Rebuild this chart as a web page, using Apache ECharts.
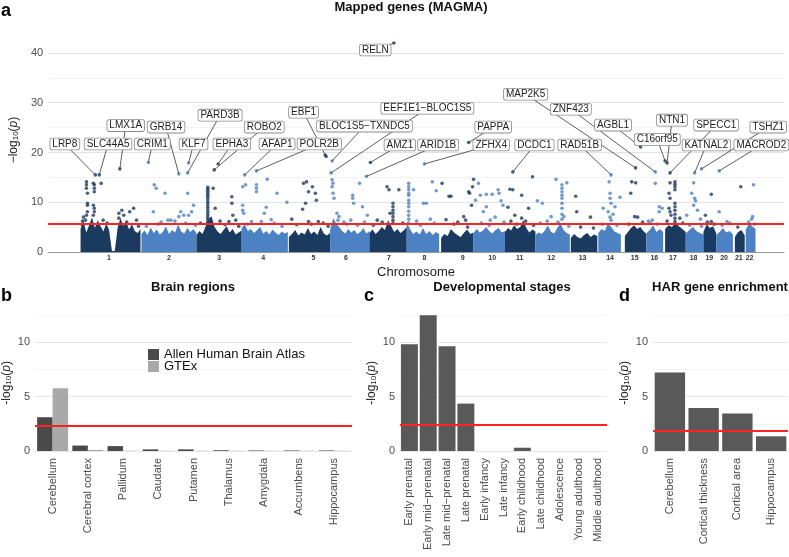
<!DOCTYPE html>
<html>
<head>
<meta charset="utf-8">
<script src="https://cdn.jsdelivr.net/npm/echarts@6/dist/echarts.min.js"></script>
<style>
  html, body { margin: 0; padding: 0; background: #fff; }
  #main { width: 789px; height: 557px; }
</style>
</head>
<body>
<div id="main"></div>
<script>
var chart = echarts.init(document.getElementById('main'));

// ---- panel a: gene-based Manhattan (positions in cumulative plot units) ----
var chromStart = [68,130,186,232,280,322,362,400,435,468,500,531,567,595,622,644,663,684,702,715,734,745];
var chromEnd   = [129,186,232,279,322,362,400,433,468,500,531,566,594,618,644,661,684,702,715,732,744,755];
var chromTick  = [97,158,209,254,305,338,382,418,457,487,515,547,579,607,632,652,671,692,708,723,738,749];

// upper edge of the dense cloud of genes, read along each chromosome
var bandHeights = [
  [4.6,6.2,3.9,5.4,7.0,4.8,6.4,5.2,4.1,5.8,4.4,0.2,0.2,4.9,6.8,5.3,6.1,4.5,5.6,4.2,3.8,4.6],
  [3.6,4.3,3.4,4.9,3.8,4.5,3.5,4.0,5.2,3.6,4.4,3.9,5.6,4.1,3.7,4.8,4.0,4.6,3.8],
  [3.4,4.2,3.6,5.1,6.6,7.2,5.0,4.1,3.6,4.4,5.2,3.9,4.6,3.5,3.9,4.3],
  [4.8,5.6,4.2,4.6,3.8,4.4,5.0,3.7,4.2,3.5,4.5,3.9,3.4,4.1,3.7,4.0],
  [3.0,3.6,4.4,3.3,3.9,3.5,4.8,3.6,4.1,3.4,5.0,3.7,3.3,3.8],
  [4.4,6.8,5.8,5.0,4.2,3.7,4.6,3.9,4.4,3.6,4.0,4.8,3.7,4.2],
  [3.8,4.5,3.6,4.2,5.0,4.4,6.4,5.2,4.0,4.6,3.8,4.3,5.0],
  [6.0,4.6,3.6,4.1,3.5,4.8,3.6,4.2,3.4,4.0,3.6],
  [2.8,3.6,3.2,4.6,3.9,3.4,3.0,3.8,4.5,3.6,3.9],
  [3.8,4.6,3.9,4.3,5.0,4.2,3.7,4.4,4.8,3.9,4.2],
  [4.0,4.8,4.3,5.4,4.6,5.0,6.4,4.8,3.9,4.5,4.1],
  [3.4,3.9,3.6,4.3,5.4,4.0,3.7,4.8,5.8,4.4,3.8,3.5],
  [2.8,3.6,3.0,2.7,3.4,3.8,3.0,3.5,3.2],
  [3.8,4.6,4.2,5.8,5.0,4.1,3.8,3.5],
  [3.2,4.0,4.8,5.4,4.6,5.0,4.2,3.6],
  [3.8,4.4,5.4,4.0,4.6,4.0],
  [4.6,5.4,5.0,6.0,5.2,4.6,4.0],
  [3.7,4.4,5.0,4.2,3.8,3.5],
  [4.0,5.6,4.8,5.2,3.8],
  [3.4,4.0,4.8,3.9,4.2,3.5],
  [3.0,4.0,4.4,3.3],
  [4.4,5.8,5.2,4.6]
];

// [chromosome, position, -log10 p] for genes standing out above the cloud
var hits = [
  [1,74,14.1],[1,74,13.5],[1,74,12.8],[1,75,11.8],[1,75,9.8],[1,75,9.4],[1,75,8.1],[1,74,7.4],[1,73,6.4],[1,71,7.0],[1,70,6.2],
  [1,81,13.8],[1,82,13.5],[1,82,12.8],[1,82,12.1],[1,81,9.4],[1,82,8.8],[1,82,8.1],[1,81,7.4],[1,89,13.8],[1,91,6.4],
  [1,107,7.8],[1,107,6.8],[1,110,8.4],[1,112,7.4],[1,118,8.1],[1,122,8.8],[1,125,6.4],
  [1,70,5.4],[1,95,5.8],[1,115,6.0],[1,127,5.2],
  [2,143,13.5],[2,145,12.8],[2,142,8.1],[2,154,11.8],[2,157,6.4],[2,160,6.4],[2,168,7.1],[2,170,8.1],[2,173,7.4],
  [2,177,11.8],[2,178,7.4],[2,181,8.1],[2,183,9.4],[2,150,6.0],[2,164,6.2],
  [2,135,5.2],[2,147,5.6],[2,175,5.8],[2,185,5.4],
  [3,197.5,13.0],[3,197.5,12.6],[3,197.5,12.2],[3,197.5,11.8],[3,197.5,11.4],[3,197.5,11.0],[3,197.5,10.5],[3,197.5,10.0],
  [3,197.5,9.5],[3,197.5,9.0],[3,197.5,8.5],[3,197.5,8.0],[3,197.5,7.5],[3,197.5,7.0],[3,197.5,6.5],[3,197.5,6.0],
  [3,203,12.8],[3,205,8.8],[3,222,11.1],[3,222,9.8],[3,223,7.4],[3,226,6.4],[3,219,6.1],[3,210,6.2],
  [3,190,5.8],[3,215,5.5],[3,229,5.2],
  [4,233,13.1],[4,236,13.5],[4,233,9.4],[4,233,8.4],[4,234,7.8],[4,242,6.1],[4,247,13.5],[4,247,12.8],[4,247,12.1],
  [4,252,6.1],[4,255,7.8],[4,258,14.6],[4,257,9.0],[4,268,11.8],[4,278,10.0],[4,262,6.5],
  [4,238,5.6],[4,265,5.8],[4,273,5.2],
  [5,283,6.6],[5,295,13.8],[5,298,14.1],[5,294,8.6],[5,297,9.8],[5,300,12.1],[5,304,13.1],[5,307,11.8],[5,308,10.4],
  [5,300,6.1],[5,310,6.1],[5,315,5.8],[5,318,19.2],
  [5,288,5.5],[5,303,5.6],[5,320,5.2],
  [6,324,14.5],[6,325,13.8],[6,324,13.1],[6,325,11.8],[6,326,10.8],[6,329,7.8],[6,331,7.1],[6,330,6.4],
  [6,345,11.4],[6,345,10.8],[6,346,9.8],[6,343,6.4],[6,352,13.8],[6,355,9.1],[6,360,7.4],[6,336,6.0],
  [6,339,5.6],[6,350,5.4],[6,357,6.0],
  [7,380,13.1],[7,382,12.5],[7,386,9.8],[7,386,9.1],[7,386,8.4],[7,386,7.8],[7,386,7.1],[7,386,6.4],[7,386,5.8],
  [7,392,12.5],[7,370,6.4],[7,383,7.8],[7,375,6.0],
  [7,366,5.4],[7,396,5.8],
  [8,402,13.8],[8,402,13.1],[8,402,12.5],[8,402,11.8],[8,402,11.4],[8,402,10.4],[8,402,9.8],[8,402,9.1],[8,402,8.2],
  [8,402,7.4],[8,402,6.6],[8,402,5.8],[8,407,12.5],[8,417,9.8],[8,420,9.8],[8,426,14.1],[8,430,12.3],[8,410,6.2],[8,424,6.6],
  [8,414,5.4],[8,428,5.8],
  [9,436,13.8],[9,443,11.2],[9,445,11.2],[9,463,12.1],[9,464,11.8],[9,458,7.1],[9,460,6.4],[9,467,13.1],[9,468,14.6],
  [9,466,9.4],[9,440,6.5],[9,452,6.0],
  [9,448,5.6],[9,462,5.0],
  [10,473,13.8],[10,475,11.4],[10,481,11.6],[10,487,11.6],[10,481,9.1],[10,478,8.1],[10,493,12.5],[10,494,11.8],
  [10,496,10.3],[10,498,9.4],[10,470,10.4],[10,485,6.4],[10,490,7.0],
  [10,476,5.8],[10,484,5.4],[10,499,6.0],
  [11,505,12.6],[11,508,12.5],[11,517,11.4],[11,528,15.1],[11,524,8.8],[11,510,7.4],[11,517,6.8],[11,503,9.0],[11,506,6.2],
  [11,512,5.6],[11,521,6.2],[11,529,5.4],
  [12,533,10.3],[12,538,9.8],[12,552,14.6],[12,558,13.5],[12,558,12.8],[12,558,12.1],[12,558,11.4],[12,558,10.8],
  [12,558,9.8],[12,558,8.8],[12,558,7.6],[12,558,6.6],[12,563,13.9],[12,547,7.1],[12,560,7.1],[12,543,6.2],
  [12,536,5.8],[12,554,6.0],[12,565,5.2],
  [13,572,11.2],[13,573,8.1],[13,587,7.0],[13,577,5.0],[13,590,4.8],
  [14,606,14.1],[14,607,11.8],[14,607,10.8],[14,608,9.8],[14,600,8.8],[14,605,8.1],[14,607,7.0],[14,608,6.4],
  [14,617,11.0],[14,612,9.1],[14,610,7.6],[14,599,5.6],[14,614,5.4],
  [15,629,14.1],[15,633,13.9],[15,628,11.8],[15,632,7.1],[15,635,7.0],[15,626,5.6],[15,640,6.0],
  [16,653,13.8],[16,650,6.4],[16,657,9.1],[16,657,8.1],[16,660,8.8],[16,646,6.2],[16,648,5.8],[16,655,5.6],
  [17,673,14.1],[17,673,13.6],[17,673,13.1],[17,673,12.5],[17,668,13.9],[17,667,11.8],[17,668,10.8],[17,667,8.8],
  [17,668,8.1],[17,669,7.4],[17,673,9.8],[17,673,9.1],[17,673,8.4],[17,673,7.6],[17,673,6.8],[17,673,6.1],[17,678,6.8],
  [17,665,6.2],[17,681,5.8],
  [18,692,13.9],[18,690,11.8],[18,693,10.8],[18,694,10.3],[18,692,9.4],[18,696,8.4],[18,685,7.4],[18,699,6.6],
  [18,688,5.4],[18,700,5.2],
  [19,710,11.6],[19,710,6.1],[19,704,7.4],[19,706,6.0],[19,713,5.6],
  [20,718,8.1],[20,726,6.1],[20,721,5.4],[20,729,5.8],
  [21,740,13.1],[21,737,5.0],
  [22,753,13.5],[22,752,7.1],[22,751,6.6],[22,748,6.0],[22,754,5.6]
];

// labelled genes
var geneNames = ['RELN','LRP8','SLC44A5','LMX1A','CRIM1','GRB14','KLF7','PARD3B','EPHA3','ROBO2','AFAP1','POLR2B',
  'EBF1','BLOC1S5\u2212TXNDC5','EEF1E1\u2212BLOC1S5','AMZ1','ARID1B','ZFHX4','PAPPA','DCDC1','MAP2K5','RAD51B',
  'ZNF423','AGBL1','NTN1','C16orf95','SPECC1','KATNAL2','TSHZ1','MACROD2'];
var genePos = [387,83,87,108,137,168,178,177,208,204,235,247,317,324,323,363,359,418,463,508,633,608,653,638,665,663,668,693,700,718];
var geneP   = [42.0,15.5,15.5,16.7,18.0,15.7,17.9,15.9,17.7,16.5,15.5,16.3,19.5,18.3,15.9,18.0,15.2,17.7,22.0,16.1,16.9,15.5,16.1,21.1,17.9,18.3,15.9,15.9,16.7,16.3];
// label box placement (layout, plot units)
var boxX = [368,52,96,114,141,155,183,210,222,255,268,311,295,357,421,393,432,486,488,530,521,576,567,610,670,655,715,705,768,761];
var boxY = [40.6,21.7,21.7,25.4,21.7,25.1,21.7,27.5,21.7,25.1,21.7,21.7,28.1,25.3,28.9,21.5,21.5,21.5,25.1,21.5,31.7,21.5,28.7,25.5,26.5,22.6,25.5,21.5,25.1,21.5];
var magmaThr = 5.6;

// ---- panels b-d ----
var brainRegions = ['Cerebellum','Cerebral cortex','Pallidum','Caudate','Putamen','Thalamus','Amygdala','Accumbens','Hippocampus'];
var ahbaP = [3.1,0.5,0.45,0.15,0.15,0.07,0.05,0.05,0.05];
var gtexP = [5.75,0.1,0.02,0.02,0.02,0.02,0.02,0.02,0.02];
var brainThr = 2.3;

var devStages = ['Early prenatal','Early mid\u2212prenatal','Late mid\u2212prenatal','Late prenatal','Early infancy','Late infancy',
  'Early childhood','Late childhood','Adolescence','Young adulthood','Middle adulthood'];
var devP = [9.8,12.45,9.6,4.35,0,0,0.3,0,0,0,0];
var devThr = 2.4;

var harSets = ['Cerebellum','Cortical thickness','Cortical area','Hippocampus'];
var harP = [7.2,3.95,3.45,1.35];
var harThr = 1.9;

var dark = '#1b3a5f', light = '#4c82c3';
var barGrey = '#595959';
var font = 'Liberation Sans, Arial, sans-serif';

function chromOf(pos) {
  for (var c = 0; c < chromStart.length; c++) {
    if (pos >= chromStart[c] && pos <= chromEnd[c]) return c + 1;
  }
  return 1;
}

var series = [];
bandHeights.forEach(function (h, c) {
  var s = chromStart[c], e = chromEnd[c], step = (e - s) / (h.length - 1);
  series.push({
    type: 'line', xAxisIndex: 0, yAxisIndex: 0, silent: true, z: 1,
    symbol: 'none', lineStyle: { width: 0 },
    areaStyle: { color: c % 2 ? light : dark, opacity: 1 },
    data: h.map(function (v, i) { return [s + i * step, v]; })
  });
});

var darkPts = [], lightPts = [];
hits.forEach(function (d) { (d[0] % 2 ? darkPts : lightPts).push([d[1], d[2]]); });
genePos.forEach(function (p, i) { (chromOf(p) % 2 ? darkPts : lightPts).push([p, geneP[i]]); });

series.push({ type: 'scatter', xAxisIndex: 0, yAxisIndex: 0, symbolSize: 3.6, z: 2, silent: true,
  itemStyle: { color: dark }, data: darkPts,
  markLine: { silent: true, symbol: 'none', label: { show: false },
    lineStyle: { color: '#ff2222', width: 1.8, type: 'solid' }, data: [{ yAxis: magmaThr }] } });
series.push({ type: 'scatter', xAxisIndex: 0, yAxisIndex: 0, symbolSize: 3.6, z: 2, silent: true,
  itemStyle: { color: light }, data: lightPts });

// leader lines
series.push({
  type: 'custom', xAxisIndex: 0, yAxisIndex: 0, z: 3, silent: true, clip: false,
  data: genePos.map(function (p, i) { return [p, geneP[i], boxX[i], boxY[i]]; }),
  renderItem: function (params, api) {
    var a = api.coord([api.value(0), api.value(1)]);
    var b = api.coord([api.value(2), api.value(3)]);
    return { type: 'line', shape: { x1: a[0], y1: a[1], x2: b[0], y2: b[1] },
      style: { stroke: '#333', lineWidth: 0.8 } };
  }
});
// label boxes
series.push({
  type: 'custom', xAxisIndex: 0, yAxisIndex: 0, z: 4, silent: true, clip: false,
  data: boxX.map(function (x, i) { return [x, boxY[i]]; }),
  renderItem: function (params, api) {
    var b = api.coord([api.value(0), api.value(1)]);
    return { type: 'text', x: b[0], y: b[1],
      style: { text: geneNames[params.dataIndex], align: 'center', verticalAlign: 'middle',
        font: '10px ' + font, fill: '#222', backgroundColor: '#fff',
        borderColor: '#8a8a8a', borderWidth: 0.8, borderRadius: 2, padding: [1, 2, 0, 2] } };
  }
});

function thrLine(v) {
  return { silent: true, symbol: 'none', label: { show: false },
    lineStyle: { color: '#ff2222', width: 1.8, type: 'solid' }, data: [{ yAxis: v }] };
}
series.push({ name: 'Allen Human Brain Atlas', type: 'bar', xAxisIndex: 1, yAxisIndex: 1, data: ahbaP,
  itemStyle: { color: '#4a4a4a' }, barGap: '0%', barCategoryGap: '12%', markLine: thrLine(brainThr) });
series.push({ name: 'GTEx', type: 'bar', xAxisIndex: 1, yAxisIndex: 1, data: gtexP,
  itemStyle: { color: '#a9a9a9' } });
series.push({ type: 'bar', xAxisIndex: 2, yAxisIndex: 2, data: devP, itemStyle: { color: barGrey },
  barCategoryGap: '10%', markLine: thrLine(devThr) });
series.push({ type: 'bar', xAxisIndex: 3, yAxisIndex: 3, data: harP, itemStyle: { color: barGrey },
  barCategoryGap: '10%', markLine: thrLine(harThr) });

var yName = function (minus) {
  return {
    name: '{a|' + minus + 'log}{s|10}{a|(}{i|p}{a|)}',
    nameLocation: 'middle', nameRotate: 90, nameGap: 22,
    nameTextStyle: { color: '#222', rich: {
      a: { fontSize: 12, fontFamily: font, color: '#222' },
      s: { fontSize: 8, fontFamily: font, color: '#222', verticalAlign: 'bottom' },
      i: { fontSize: 12, fontFamily: font, color: '#222', fontStyle: 'italic' } } }
  };
};

function barY(idx) {
  return Object.assign({ type: 'value', gridIndex: idx, min: 0, max: 12.5, interval: 2.5,
    axisLine: { show: false }, axisTick: { show: false },
    axisLabel: { fontSize: 11, color: '#4d4d4d', margin: 5,
      formatter: function (v) { return v % 5 === 0 ? String(v) : ''; } },
    splitLine: { lineStyle: { color: ['#e6e6e6', '#f3f3f3'], width: 1 } } }, yName('-'));
}
function barX(idx, cats) {
  return { type: 'category', gridIndex: idx, data: cats, axisLine: { show: false }, axisTick: { show: false },
    axisLabel: { rotate: 90, interval: 0, fontSize: 11, color: '#4d4d4d', margin: 7 } };
}

var option = {
  animation: false,
  textStyle: { fontFamily: font },
  grid: [
    { left: 35, width: 749, top: 28.1, height: 223.9 },
    { left: 35, width: 317, top: 314.75, height: 136.25 },
    { left: 400, width: 207, top: 314.75, height: 136.25 },
    { left: 653, width: 135, top: 314.75, height: 136.25 }
  ],
  xAxis: [
    { type: 'value', gridIndex: 0, min: 35, max: 784,
      axisLine: { show: true, onZero: false, lineStyle: { color: '#9a9a9a', width: 1 } },
      axisTick: { show: false }, splitLine: { show: false },
      axisLabel: { customValues: chromTick, fontSize: 7, fontWeight: 'bold', color: '#333', margin: 3,
        formatter: function (v) { return String(chromTick.indexOf(v) + 1); } },
      name: 'Chromosome', nameLocation: 'middle', nameGap: 14,
      nameTextStyle: { fontSize: 13, color: '#222' } },
    barX(1, brainRegions), barX(2, devStages), barX(3, harSets)
  ],
  yAxis: [
    Object.assign({ type: 'value', gridIndex: 0, min: 0, max: 45, interval: 5,
      axisLine: { show: false }, axisTick: { show: false },
      axisLabel: { fontSize: 11, color: '#4d4d4d', margin: 5,
        formatter: function (v) { return v % 10 === 0 ? String(v) : ''; } },
      splitLine: { showMaxLine: false, lineStyle: { color: ['#e3e3e3', '#f2f2f2'], width: 1 } } }, yName('\u2212')),
    barY(1), barY(2), barY(3)
  ],
  legend: {
    data: ['Allen Human Brain Atlas', 'GTEx'], orient: 'vertical', left: 143, top: 343,
    icon: 'rect', itemWidth: 11, itemHeight: 11, itemGap: -1,
    textStyle: { fontSize: 13, color: '#111', lineHeight: 12 }
  },
  graphic: [
    { type: 'text', x: 1, y: 11, style: { text: 'a', font: 'bold 18px ' + font, fill: '#000', verticalAlign: 'middle' } },
    { type: 'text', x: 411, y: 7, style: { text: 'Mapped genes (MAGMA)', font: 'bold 13px ' + font, fill: '#111', align: 'center', verticalAlign: 'middle' } },
    { type: 'text', x: 1, y: 296, style: { text: 'b', font: 'bold 18px ' + font, fill: '#000', verticalAlign: 'middle' } },
    { type: 'text', x: 193, y: 287, style: { text: 'Brain regions', font: 'bold 13px ' + font, fill: '#111', align: 'center', verticalAlign: 'middle' } },
    { type: 'text', x: 364, y: 296, style: { text: 'c', font: 'bold 18px ' + font, fill: '#000', verticalAlign: 'middle' } },
    { type: 'text', x: 502, y: 287, style: { text: 'Developmental stages', font: 'bold 13px ' + font, fill: '#111', align: 'center', verticalAlign: 'middle' } },
    { type: 'text', x: 619, y: 296, style: { text: 'd', font: 'bold 18px ' + font, fill: '#000', verticalAlign: 'middle' } },
    { type: 'text', x: 720, y: 287, style: { text: 'HAR gene enrichment', font: 'bold 13px ' + font, fill: '#111', align: 'center', verticalAlign: 'middle' } }
  ],
  series: series
};

chart.setOption(option);
</script>
</body>
</html>
